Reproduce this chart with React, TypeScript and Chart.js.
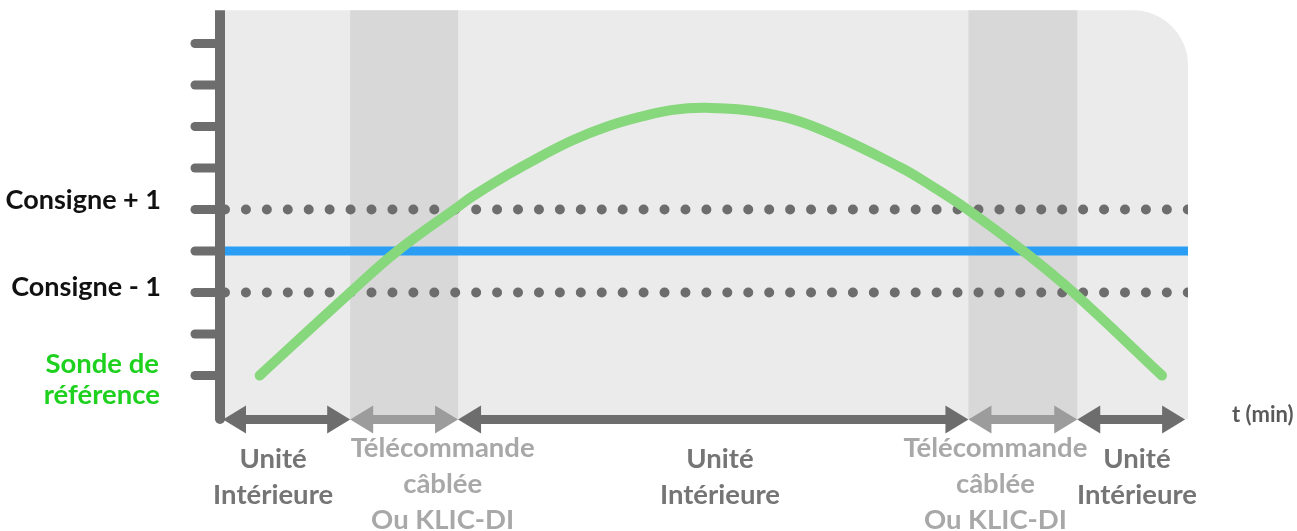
import React, { useEffect, useRef } from "react";
import { Chart, registerables } from "chart.js";

Chart.register(...registerables);

// ---- data ----
const timeMax = 100;
const yMax = 9.8;
const yTicks = [1, 2, 3, 4, 5, 6, 7, 8, 9];
const consigne = 4;
const consignePlus = 5;
const consigneMinus = 3;
const sondeT = [3.6, 13.0, 17.9, 24.1, 25.8, 29.3, 32.7, 36.1, 39.7, 43.1, 46.5, 50.0, 55.5, 61.1, 70.1, 73.5, 77.1, 82.9, 88.1, 97.3];
const sondeV = [1.0, 3.0, 4.0, 5.05, 5.33, 5.83, 6.27, 6.67, 7.0, 7.23, 7.4, 7.45, 7.35, 7.0, 6.02, 5.55, 5.0, 4.0, 3.0, 1.0];
const phaseBounds = [0, 13.0, 24.2, 77.2, 88.5, 99.7];
const phaseKinds = ["unit", "remote", "unit", "remote", "unit"];
const phaseLabels = [
  ["Unité", "Intérieure"],
  ["Télécommande", "câblée", "Ou KLIC-DI"],
  ["Unité", "Intérieure"],
  ["Télécommande", "câblée", "Ou KLIC-DI"],
  ["Unité", "Intérieure"],
];
const phaseLabelT = [5.0, 22.6, 51.4, 80.0, 94.7];
const yLabelTexts = ["Consigne + 1", "Consigne - 1"];
const yLabelValues = [consignePlus, consigneMinus];
const sondeLabel = ["Sonde de", "référence"];
const sondeLabelValue = 1;
const xAxisTitle = "t (min)";

// ---- styles ----
const AXIS = "#6d6d6d";
const LIGHT = "#9c9c9c";
const PANEL = "#ebebeb";
const BAND = "#d8d8d8";
const GREEN = "#87d77c";
const BLUE = "#2a9ef5";
const FONT = "Lato, 'Open Sans', sans-serif";

const decorPlugin = {
  id: "decor",
  beforeDatasetsDraw(chart: any) {
    const ctx = chart.ctx;
    const xs = chart.scales.x;
    const ys = chart.scales.y;
    const l = xs.getPixelForValue(0);
    const r = xs.getPixelForValue(timeMax);
    const t = ys.getPixelForValue(yMax);
    const b = ys.getPixelForValue(0) + 2;
    const rad = 55;
    ctx.save();
    ctx.fillStyle = PANEL;
    ctx.beginPath();
    ctx.moveTo(l, t);
    ctx.lineTo(r - rad, t);
    ctx.arcTo(r, t, r, t + rad, rad);
    ctx.lineTo(r, b);
    ctx.lineTo(l, b);
    ctx.closePath();
    ctx.fill();
    ctx.fillStyle = BAND;
    phaseKinds.forEach((k, i) => {
      if (k !== "remote") return;
      const x1 = xs.getPixelForValue(phaseBounds[i]);
      const x2 = xs.getPixelForValue(phaseBounds[i + 1]);
      ctx.fillRect(x1, t, x2 - x1, b - t);
    });
    ctx.restore();
  },
  afterDatasetsDraw(chart: any) {
    const ctx = chart.ctx;
    const xs = chart.scales.x;
    const ys = chart.scales.y;
    const l = xs.getPixelForValue(0);
    const t = ys.getPixelForValue(yMax);
    const y0 = ys.getPixelForValue(0);
    ctx.save();
    // y axis line
    ctx.strokeStyle = AXIS;
    ctx.lineWidth = 10;
    ctx.lineCap = "butt";
    ctx.beginPath();
    ctx.moveTo(l - 5, t);
    ctx.lineTo(l - 5, y0 + 3);
    ctx.stroke();
    ctx.lineCap = "round";
    ctx.beginPath();
    ctx.moveTo(l - 5, y0);
    ctx.lineTo(l - 5, y0 + 2);
    ctx.stroke();
    // ticks
    ctx.lineWidth = 9;
    yTicks.forEach((v) => {
      const py = ys.getPixelForValue(v);
      ctx.beginPath();
      ctx.moveTo(l - 30, py);
      ctx.lineTo(l - 6, py);
      ctx.stroke();
    });
    // arrows
    const ay = y0 + 2.5;
    const hl = 23;
    const hh = 14;
    phaseKinds.forEach((k, i) => {
      const x1 = xs.getPixelForValue(phaseBounds[i]) - (i === 0 ? 2 : 0);
      const x2 = xs.getPixelForValue(phaseBounds[i + 1]);
      ctx.fillStyle = k === "remote" ? LIGHT : AXIS;
      ctx.fillRect(x1 + hl - 1, ay - 4.5, x2 - x1 - 2 * hl + 2, 9);
      ctx.beginPath();
      ctx.moveTo(x1, ay);
      ctx.lineTo(x1 + hl, ay - hh);
      ctx.lineTo(x1 + hl, ay + hh);
      ctx.closePath();
      ctx.fill();
      ctx.beginPath();
      ctx.moveTo(x2, ay);
      ctx.lineTo(x2 - hl, ay - hh);
      ctx.lineTo(x2 - hl, ay + hh);
      ctx.closePath();
      ctx.fill();
    });
    // phase labels
    ctx.font = `bold 27.5px ${FONT}`;
    ctx.textAlign = "center";
    ctx.textBaseline = "alphabetic";
    phaseLabels.forEach((lines, i) => {
      const cx = xs.getPixelForValue(phaseLabelT[i]);
      const remote = phaseKinds[i] === "remote";
      ctx.fillStyle = remote ? "#a8a8a8" : "#757575";
      const base = remote ? y0 + 40 : y0 + 51;
      lines.forEach((s, j) => {
        ctx.fillText(s, cx, base + j * 36);
      });
    });
    // y labels
    ctx.textAlign = "right";
    ctx.fillStyle = "#111111";
    ctx.font = `bold 27px ${FONT}`;
    yLabelTexts.forEach((s, i) => {
      const py = ys.getPixelForValue(yLabelValues[i]);
      ctx.fillText(s, l - 64, py + (i === 0 ? -1 : 3));
    });
    ctx.font = `bold 27.5px ${FONT}`;
    ctx.fillStyle = "#1fd11f";
    const sp = ys.getPixelForValue(sondeLabelValue);
    ctx.fillText(sondeLabel[0], l - 66, sp - 3);
    ctx.fillText(sondeLabel[1], l - 65, sp + 28);
    // x title
    ctx.font = `bold 22px ${FONT}`;
    ctx.textAlign = "left";
    ctx.fillStyle = "#595959";
    ctx.fillText(xAxisTitle, xs.getPixelForValue(timeMax) + 44, y0 + 5);
    ctx.restore();
  },
};

export default function App() {
  const ref = useRef<HTMLCanvasElement | null>(null);
  useEffect(() => {
    if (!ref.current) return;
    const chart = new Chart(ref.current, {
      type: "line",
      data: {
        datasets: [
          {
            label: "Sonde de référence",
            data: sondeT.map((x, i) => ({ x, y: sondeV[i] })),
            borderColor: GREEN,
            borderWidth: 10,
            borderCapStyle: "round",
            borderJoinStyle: "round",
            tension: 0.4,
            pointRadius: 0,
            fill: false,
          },
          {
            label: "Consigne",
            data: [
              { x: 0, y: consigne },
              { x: timeMax, y: consigne },
            ],
            borderColor: BLUE,
            borderWidth: 9,
            borderCapStyle: "round",
            pointRadius: 0,
          },
          {
            label: "Consigne + 1",
            data: [
              { x: 0, y: consignePlus },
              { x: timeMax, y: consignePlus },
            ],
            borderColor: AXIS,
            borderWidth: 10,
            borderCapStyle: "round",
            borderDash: [0, 20.93],
            pointRadius: 0,
          },
          {
            label: "Consigne - 1",
            data: [
              { x: 0, y: consigneMinus },
              { x: timeMax, y: consigneMinus },
            ],
            borderColor: AXIS,
            borderWidth: 10,
            borderCapStyle: "round",
            borderDash: [0, 20.93],
            pointRadius: 0,
          },
        ],
      },
      options: {
        animation: false,
        responsive: false,
        devicePixelRatio: 1,
        layout: { padding: { left: 225, right: 109, top: 10.3, bottom: 114 } },
        scales: {
          x: { type: "linear", min: 0, max: timeMax, display: false },
          y: { type: "linear", min: 0, max: yMax, display: false },
        },
        plugins: { legend: { display: false }, tooltip: { enabled: false } },
        events: [],
      },
      plugins: [decorPlugin],
    } as any);
    return () => chart.destroy();
  }, []);
  return (
    <div style={{ position: "absolute", left: 0, top: 0, width: 1297, height: 531, background: "#ffffff" }}>
      <canvas ref={ref} width={1297} height={531} style={{ display: "block" }} />
    </div>
  );
}
